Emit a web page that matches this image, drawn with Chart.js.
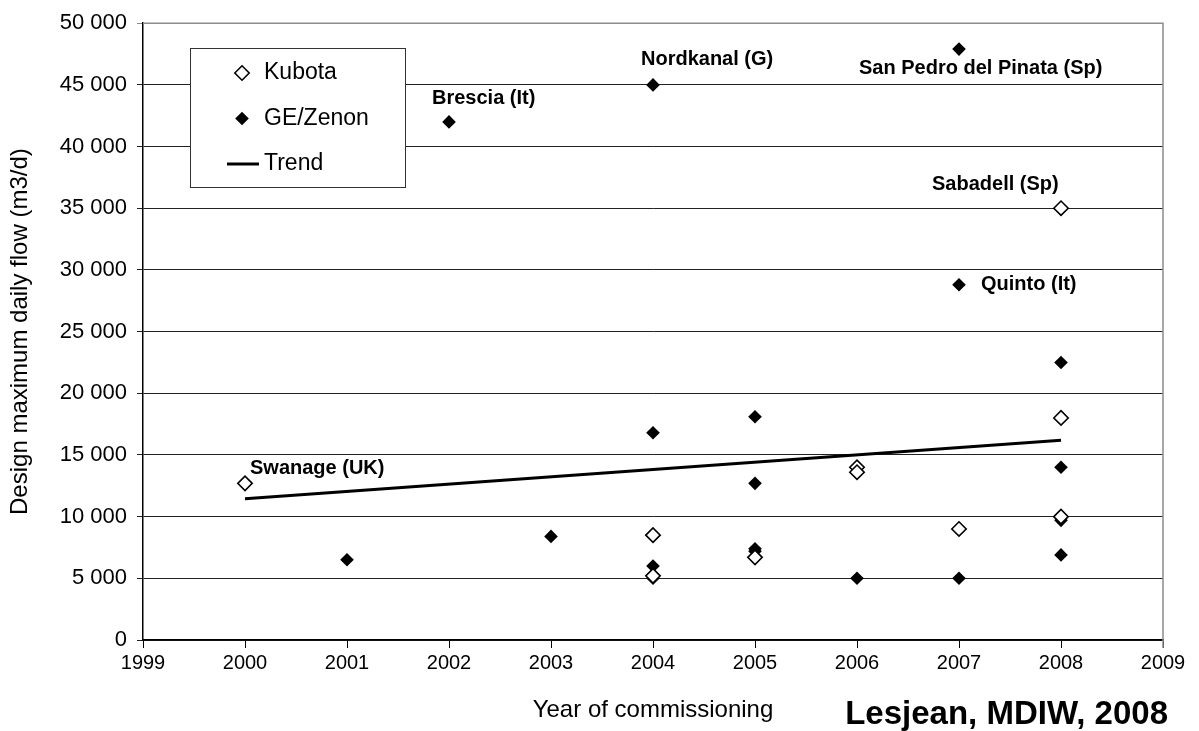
<!DOCTYPE html>
<html>
<head>
<meta charset="utf-8">
<script src="https://cdn.jsdelivr.net/npm/chart.js@4.4.1/dist/chart.umd.min.js"></script>
<style>
    html, body { margin: 0; padding: 0; background: #fff; }
    #wrap { width: 1199px; height: 731px; position: relative; }
</style>
</head>
<body>
<div id="wrap"><canvas id="grafico"></canvas></div>
<script>
// Eixos
const xTicks = [1999, 2000, 2001, 2002, 2003, 2004, 2005, 2006, 2007, 2008, 2009];
const yTicks = [0, 5000, 10000, 15000, 20000, 25000, 30000, 35000, 40000, 45000, 50000];

// Kubota (losangos vazios)
const kubotaYears = [2000, 2004, 2004, 2005, 2006, 2006, 2007, 2008, 2008, 2008];
const kubotaFlows = [12700, 8500, 5200, 6700, 14000, 13600, 9000, 35000, 18000, 10000];

// GE/Zenon (losangos cheios)
const zenonYears = [2001, 2002, 2003, 2004, 2004, 2004, 2004, 2005, 2005, 2005, 2005, 2006, 2007, 2007, 2007, 2008, 2008, 2008, 2008];
const zenonFlows = [6500, 42000, 8400, 45000, 16800, 6000, 5000, 18100, 12700, 7400, 7200, 5000, 47900, 28800, 5000, 22500, 14000, 9700, 6900];

// Tendência
const trendYears = [2000, 2008];
const trendFlows = [11450, 16200];

// Estações nomeadas
const siteNames = ["Swanage (UK)", "Brescia (It)", "Nordkanal (G)", "San Pedro del Pinata (Sp)", "Sabadell (Sp)", "Quinto (It)"];
const siteYears = [2000, 2002, 2004, 2007, 2008, 2007];
const siteFlows = [12700, 42000, 45000, 47900, 35000, 28800];

const FONTE = "'Liberation Sans', Arial, sans-serif";

function pares(xs, ys) {
    return xs.map((x, i) => ({ x: x, y: ys[i] }));
}

function formatarMilhar(v) {
    return String(v).replace(/\B(?=(\d{3})+(?!\d))/g, " ");
}

function losango(ctx, x, y, r) {
    ctx.beginPath();
    ctx.moveTo(x - r, y);
    ctx.lineTo(x, y - r);
    ctx.lineTo(x + r, y);
    ctx.lineTo(x, y + r);
    ctx.closePath();
}

// Moldura cinza em cima e à direita
const moldura = {
    id: "moldura",
    beforeDatasetsDraw(chart) {
        const { ctx, chartArea: a } = chart;
        ctx.save();
        ctx.strokeStyle = "#8c8c8c";
        ctx.lineWidth = 1.5;
        ctx.beginPath();
        ctx.moveTo(a.left, a.top);
        ctx.lineTo(a.right, a.top);
        ctx.lineTo(a.right, a.bottom + 8);
        ctx.stroke();
        ctx.restore();
    }
};

// Rótulos das estações
const rotulos = {
    id: "rotulos",
    afterDatasetsDraw(chart, args, opts) {
        const { ctx, scales } = chart;
        ctx.save();
        ctx.font = "bold 20px " + FONTE;
        ctx.fillStyle = "#000";
        ctx.textAlign = "left";
        ctx.textBaseline = "middle";
        siteNames.forEach((nome, i) => {
            const d = opts.offsets[i];
            const px = scales.x.getPixelForValue(siteYears[i]) + d[0];
            const py = scales.y.getPixelForValue(siteFlows[i]) + d[1];
            ctx.fillText(nome, px, py);
        });
        ctx.restore();
    }
};

// Legenda em caixa dentro do gráfico
const legendaCaixa = {
    id: "legendaCaixa",
    afterDraw(chart, args, opts) {
        const ctx = chart.ctx;
        ctx.save();
        ctx.fillStyle = "#fff";
        ctx.fillRect(opts.left, opts.top, opts.width, opts.height);
        ctx.strokeStyle = "#333";
        ctx.lineWidth = 1;
        ctx.strokeRect(opts.left + 0.5, opts.top + 0.5, opts.width, opts.height);
        ctx.font = "23px " + FONTE;
        ctx.textBaseline = "middle";
        chart.data.datasets.forEach((ds, i) => {
            const cy = opts.top + opts.firstRow + i * opts.rowGap;
            if (ds.showLine) {
                ctx.strokeStyle = ds.borderColor;
                ctx.lineWidth = ds.borderWidth;
                ctx.beginPath();
                ctx.moveTo(opts.lineStart, cy);
                ctx.lineTo(opts.lineEnd, cy);
                ctx.stroke();
            } else {
                losango(ctx, opts.symbolX, cy, ds.pointRadius);
                ctx.fillStyle = ds.pointBackgroundColor;
                ctx.fill();
                if (ds.pointBorderWidth > 0) {
                    ctx.strokeStyle = ds.pointBorderColor;
                    ctx.lineWidth = ds.pointBorderWidth;
                    ctx.stroke();
                }
            }
            ctx.fillStyle = "#000";
            ctx.fillText(ds.label, opts.textX, cy);
        });
        ctx.restore();
    }
};

// Rodapé com a fonte
const rodape = {
    id: "rodape",
    afterDraw(chart) {
        const ctx = chart.ctx;
        ctx.save();
        ctx.font = "bold 33px " + FONTE;
        ctx.fillStyle = "#000";
        ctx.textAlign = "right";
        ctx.textBaseline = "alphabetic";
        ctx.fillText("Lesjean, MDIW, 2008", 1168, 724);
        ctx.restore();
    }
};

let grafico = null;

function renderizarGrafico() {
    if (grafico) grafico.destroy();

    const ctx = document.getElementById("grafico").getContext("2d");
    grafico = new Chart(ctx, {
        type: "scatter",
        data: {
            datasets: [
                {
                    label: "Kubota",
                    data: pares(kubotaYears, kubotaFlows),
                    pointStyle: "rectRot",
                    pointRadius: 7.2,
                    pointBackgroundColor: "#fff",
                    pointBorderColor: "#000",
                    pointBorderWidth: 1.6,
                    showLine: false
                },
                {
                    label: "GE/Zenon",
                    data: pares(zenonYears, zenonFlows),
                    pointStyle: "rectRot",
                    pointRadius: 6.8,
                    pointBackgroundColor: "#000",
                    pointBorderColor: "#000",
                    pointBorderWidth: 0,
                    showLine: false
                },
                {
                    label: "Trend",
                    data: pares(trendYears, trendFlows),
                    showLine: true,
                    borderColor: "#000",
                    borderWidth: 3,
                    pointRadius: 0,
                    fill: false
                }
            ]
        },
        options: {
            responsive: true,
            maintainAspectRatio: false,
            animation: false,
            layout: { padding: { left: 0, right: 36, top: 23, bottom: 0 } },
            plugins: {
                legend: { display: false },
                tooltip: { enabled: false },
                rotulos: {
                    offsets: [[5, -15], [-17, -23], [-12, -25], [-100, 19], [-129, -24], [22, 0]]
                },
                legendaCaixa: {
                    left: 190, top: 48, width: 215, height: 139,
                    firstRow: 25, rowGap: 45.5,
                    symbolX: 242, textX: 264, lineStart: 227, lineEnd: 259
                }
            },
            scales: {
                x: {
                    type: "linear",
                    min: 1999,
                    max: 2009,
                    afterBuildTicks: s => { s.ticks = xTicks.map(v => ({ value: v })); },
                    afterFit: s => { s.height = 91; },
                    ticks: {
                        callback: v => String(v),
                        color: "#000",
                        font: { family: FONTE, size: 20 },
                        padding: 3,
                        maxRotation: 0,
                        autoSkip: false
                    },
                    grid: {
                        drawOnChartArea: false,
                        drawTicks: true,
                        tickLength: 8,
                        color: "#000",
                        lineWidth: 1
                    },
                    border: { color: "#000", width: 1.5 },
                    title: {
                        display: true,
                        text: "Year of commissioning",
                        color: "#000",
                        font: { family: FONTE, size: 24 },
                        padding: { top: 0, bottom: 6 }
                    }
                },
                y: {
                    min: 0,
                    max: 50000,
                    afterBuildTicks: s => { s.ticks = yTicks.map(v => ({ value: v })); },
                    afterFit: s => { s.width = 143; },
                    ticks: {
                        callback: v => formatarMilhar(v),
                        color: "#000",
                        font: { family: FONTE, size: 22 },
                        padding: 10
                    },
                    grid: {
                        color: c => (c.tick && c.tick.value === 50000) ? "#8c8c8c" : "#222",
                        lineWidth: 1,
                        tickLength: 6
                    },
                    border: { color: "#000", width: 1.5 },
                    title: {
                        display: true,
                        text: "Design maximum daily flow (m3/d)",
                        color: "#000",
                        font: { family: FONTE, size: 24 },
                        padding: { top: 6, bottom: 0 }
                    }
                }
            }
        },
        plugins: [moldura, rotulos, legendaCaixa, rodape]
    });
}

document.addEventListener("DOMContentLoaded", renderizarGrafico);
</script>
</body>
</html>
